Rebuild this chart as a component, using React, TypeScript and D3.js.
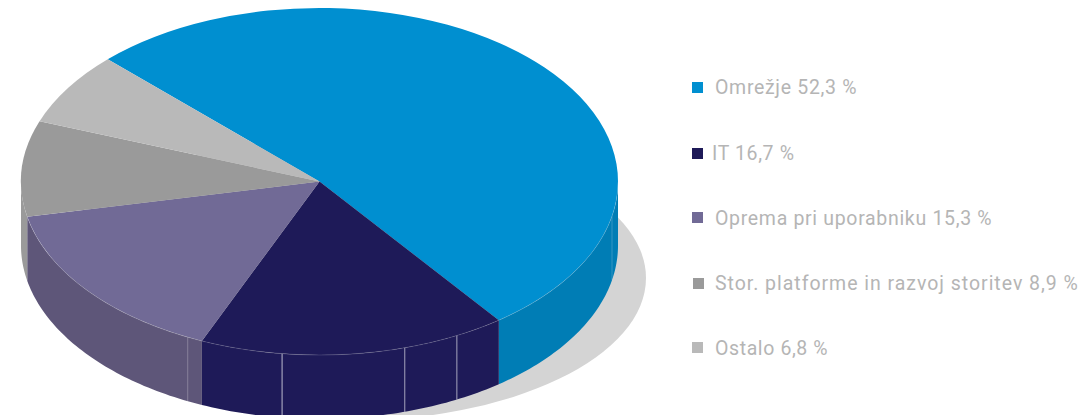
import * as d3 from "d3";
import React from "react";

const width = 1081;
const height = 415;

const categories = ["Omrežje", "IT", "Oprema pri uporabniku", "Stor. platforme in razvoj storitev", "Ostalo"];
const shares = [52.3, 16.7, 15.3, 8.9, 6.8];
const shareLabels = ["52,3 %", "16,7 %", "15,3 %", "8,9 %", "6,8 %"];
const topColors = ["#008fd0", "#1e1a58", "#716a96", "#9a9a9a", "#b9b9b9"];
const wallColors = ["#007db5", "#1e1a58", "#5e5679", "#9a9a9a", "#b9b9b9"];

// thin light seams on the pie wall, in degrees clockwise from the top
const seamAngles = [101.5, 152.6, 163.4, 187.2, 206.2];
const seamOpacity = [0.2, 0.6, 0.6, 0.7, 0.25];

const pie = { cx: 319.5, cy: 181.5, rx: 298.5, ry: 173.5, depth: 64 };
const shadow = { cx: 347.5, cy: 278, rx: 298.5, ry: 143 };
const startDeg = -45.2;

const legendX = [692, 692, 692, 693, 692];
const legendTextX = [715, 712, 715, 715, 715];
const legendY = [82, 148, 212, 278, 342];
const legendBaseline = [94, 160, 225, 290, 355];
const legendSpacing = [0.68, 0.62, 0.68, 0.97, 0.6];

const rad = (deg: number) => (deg * Math.PI) / 180;

const xPie = d3.scaleLinear().domain([-1, 1]).range([pie.cx - pie.rx, pie.cx + pie.rx]);
const yPie = d3.scaleLinear().domain([-1, 1]).range([pie.cy - pie.ry, pie.cy + pie.ry]);
const rimX = (a: number) => xPie(Math.sin(a));
const rimY = (a: number) => yPie(-Math.cos(a));

export default function App() {
  const slices = d3
    .pie<number>()
    .sort(null)
    .startAngle(rad(startDeg))
    .endAngle(rad(startDeg + 360))(shares);

  const arc = d3.arc<d3.PieArcDatum<number>>().innerRadius(0).outerRadius(pie.rx);

  const wall = d3
    .area<number>()
    .x(rimX)
    .y0(rimY)
    .y1((a) => rimY(a) + pie.depth);

  const rim = d3.line<number>().x(rimX).y(rimY);

  const samples = (a0: number, a1: number) => {
    const n = Math.max(2, Math.ceil((a1 - a0) / rad(1)));
    return d3.range(n + 1).map((i) => a0 + ((a1 - a0) * i) / n);
  };

  const walls = slices
    .map((s, i) => {
      const a0 = Math.max(s.startAngle, rad(90));
      const a1 = Math.min(s.endAngle, rad(270));
      return a1 > a0 ? { i, a0, a1 } : null;
    })
    .filter(Boolean) as { i: number; a0: number; a1: number }[];

  return (
    <>
      <style>{`body{margin:0;overflow:hidden}svg{display:block}`}</style>
      <svg width={width} height={height}>
        <ellipse cx={shadow.cx} cy={shadow.cy} rx={shadow.rx} ry={shadow.ry} fill="#d4d4d4" />

        {walls.map((w) => (
          <path key={w.i} d={wall(samples(w.a0, w.a1)) || ""} fill={wallColors[w.i]} />
        ))}

        {seamAngles.map((deg, i) => {
          const a = rad(deg);
          return (
            <line
              key={deg}
              x1={rimX(a)}
              x2={rimX(a)}
              y1={rimY(a)}
              y2={rimY(a) + pie.depth}
              stroke="#ffffff"
              strokeOpacity={seamOpacity[i]}
              strokeWidth={1}
            />
          );
        })}

        <g transform={`translate(${pie.cx},${pie.cy}) scale(1,${pie.ry / pie.rx})`}>
          {slices.map((s, i) => (
            <path key={i} d={arc(s) || ""} fill={topColors[i]} />
          ))}
        </g>

        <path
          d={rim(samples(rad(90), rad(258))) || ""}
          fill="none"
          stroke="#ffffff"
          strokeOpacity={0.2}
          strokeWidth={0.7}
        />

        {categories.map((c, i) => (
          <g key={c}>
            <rect x={legendX[i]} y={legendY[i]} width={11} height={11} fill={topColors[i]} />
            <text
              x={legendTextX[i]}
              y={legendBaseline[i]}
              fontFamily="Roboto, sans-serif"
              fontSize={19.5}
              letterSpacing={legendSpacing[i]}
              fill="#b5b5b5"
            >
              {c} {shareLabels[i]}
            </text>
          </g>
        ))}
      </svg>
    </>
  );
}
